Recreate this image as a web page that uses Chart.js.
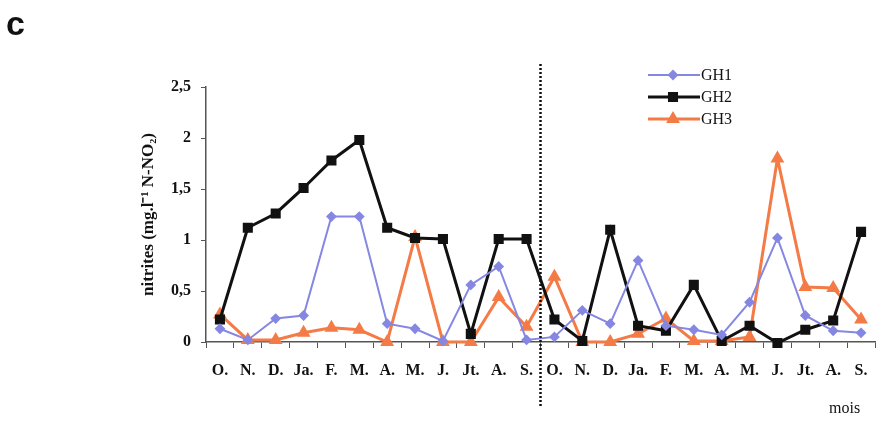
<!DOCTYPE html>
<html>
<head>
<meta charset="utf-8">
<script src="https://cdn.jsdelivr.net/npm/chart.js@4"></script>
<style>
  body { margin: 0; background: #fff; }
  #wrap { position: relative; width: 883px; height: 426px; }
  #tag { position: absolute; left: 6px; top: 4px; font: bold 34px "Liberation Sans", Arial, sans-serif; color: #111; }
  #mois { position: absolute; left: 829px; top: 399px; font: 16px "Liberation Serif", serif; color: #111; }
</style>
</head>
<body>
<div id="wrap">
  <canvas id="myChart" width="883" height="426"></canvas>
  <div id="tag">c</div>
  <div id="mois">mois</div>
</div>
<script>
// mois, deux années de suivi
const months = ['O.', 'N.', 'D.', 'Ja.', 'F.', 'M.', 'A.', 'M.', 'J.', 'Jt.', 'A.', 'S.',
  'O.', 'N.', 'D.', 'Ja.', 'F.', 'M.', 'A.', 'M.', 'J.', 'Jt.', 'A.', 'S.'];

// nitrites (mg.l-1 N-NO2)
const gh1 = [0.13, 0.02, 0.23, 0.26, 1.23, 1.23, 0.18, 0.13, 0.01, 0.56, 0.74, 0.02,
  0.05, 0.31, 0.18, 0.8, 0.16, 0.12, 0.07, 0.39, 1.02, 0.26, 0.11, 0.09];
const gh2 = [0.22, 1.12, 1.26, 1.51, 1.78, 1.98, 1.12, 1.02, 1.01, 0.08, 1.01, 1.01,
  0.22, 0.01, 1.1, 0.16, 0.11, 0.56, 0.01, 0.16, -0.01, 0.12, 0.21, 1.08];
const gh3 = [0.27, 0.02, 0.02, 0.09, 0.14, 0.12, 0.0, 1.03, 0.0, 0.0, 0.44, 0.15,
  0.64, 0.0, 0.0, 0.08, 0.23, 0.01, 0.01, 0.05, 1.8, 0.54, 0.53, 0.22];

const yTicks = [0, 0.5, 1, 1.5, 2, 2.5];

const BLUE = '#8587e2';
const ORANGE = '#f47a46';

const serif = '"Liberation Serif", "Times New Roman", serif';

// ligne pointillée entre les deux années + légende
const extras = {
  id: 'extras',
  afterDatasetsDraw(chart) {
    const ctx = chart.ctx;
    const x = chart.scales.x;
    const xm = (x.getPixelForValue(11) + x.getPixelForValue(12)) / 2;
    ctx.save();
    ctx.strokeStyle = '#111';
    ctx.lineWidth = 2.5;
    ctx.setLineDash([2, 2]);
    ctx.beginPath();
    ctx.moveTo(xm, 64);
    ctx.lineTo(xm, 407);
    ctx.stroke();
    ctx.setLineDash([]);

    // légende
    const items = chart.data.datasets;
    items.forEach((ds, i) => {
      const y = 75 + i * 22;
      ctx.strokeStyle = ds.borderColor;
      ctx.lineWidth = ds.borderWidth;
      ctx.beginPath();
      ctx.moveTo(648, y);
      ctx.lineTo(700, y);
      ctx.stroke();
      Chart.helpers.drawPoint(ctx, {
        pointStyle: ds.pointStyle, radius: ds.pointRadius, borderWidth: 1
      }, 673, y);
      ctx.fillStyle = ds.borderColor;
      ctx.fill();
      ctx.fillStyle = '#111';
      ctx.font = '16px ' + serif;
      ctx.textBaseline = 'middle';
      ctx.fillText(ds.label, 701, y + 1);
    });
    ctx.restore();
  }
};

const data = {
  labels: months,
  datasets: [
    {
      label: 'GH1',
      data: gh1,
      borderColor: BLUE,
      backgroundColor: BLUE,
      borderWidth: 2,
      pointStyle: 'rectRot',
      pointRadius: 4,
    },
    {
      label: 'GH2',
      data: gh2,
      borderColor: '#111',
      backgroundColor: '#111',
      borderWidth: 3,
      pointStyle: 'rect',
      pointRadius: 5,
    },
    {
      label: 'GH3',
      data: gh3,
      borderColor: ORANGE,
      backgroundColor: ORANGE,
      borderWidth: 3,
      pointStyle: 'triangle',
      pointRadius: 5,
    },
  ],
};

const config = {
  type: 'line',
  data: data,
  options: {
    responsive: false,
    animation: false,
    devicePixelRatio: 1,
    clip: false,
    layout: { padding: { top: 87, right: 3, left: 0, bottom: 0 } },
    plugins: { legend: { display: false }, tooltip: { enabled: false } },
    elements: { line: { tension: 0 } },
    scales: {
      x: {
        offset: true,
        grid: { offset: true, drawOnChartArea: false, tickLength: 6, color: '#555' },
        border: { color: '#555', width: 1.5 },
        ticks: { color: '#111', padding: 13, maxRotation: 0, autoSkip: false,
          font: { family: serif, size: 16, weight: 'bold' } },
        afterFit(s) { s.height = 84; },
      },
      y: {
        min: 0,
        max: 2.5,
        afterBuildTicks(s) { s.ticks = yTicks.map(v => ({ value: v })); },
        grid: { drawOnChartArea: false, tickLength: 5, color: '#555' },
        border: { color: '#555', width: 1.5 },
        ticks: {
          color: '#111', padding: 10,
          font: { family: serif, size: 16, weight: 'bold' },
          callback: v => String(v).replace('.', ','),
        },
        title: {
          display: true,
          text: 'nitrites (mg.l⁻¹ N-NO₂)',
          color: '#111',
          font: { family: serif, size: 17, weight: 'bold' },
          padding: { top: 138, bottom: 0 },
        },
        afterFit(s) { s.width = 206; },
      },
    },
  },
  plugins: [extras],
};

const myChart = new Chart(document.getElementById('myChart'), config);
</script>
</body>
</html>
